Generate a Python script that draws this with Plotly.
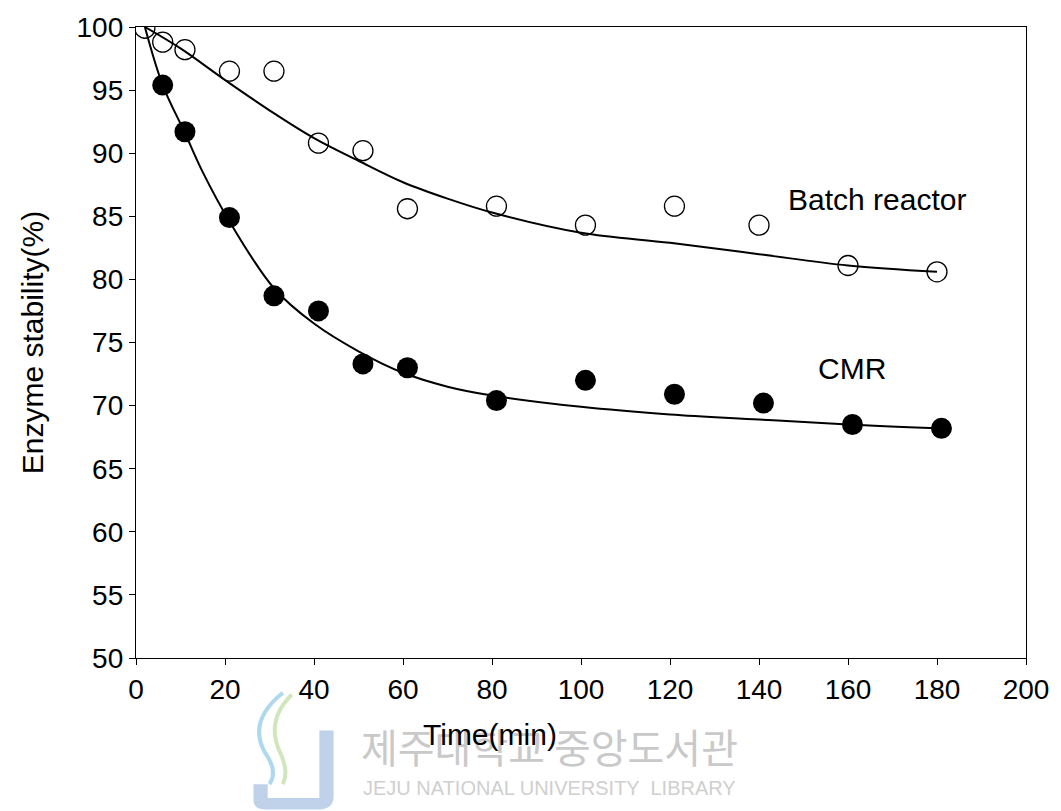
import plotly.graph_objects as go

# ---- data ----
batch_time = [2, 6, 11, 21, 31, 41, 51, 61, 81, 101, 121, 140, 160, 180]
batch_stab = [99.9, 98.8, 98.2, 96.5, 96.5, 90.8, 90.2, 85.6, 85.8, 84.3, 85.8, 84.3, 81.1, 80.6]

cmr_time = [6, 11, 21, 31, 41, 51, 61, 81, 101, 121, 141, 161, 181]
cmr_stab = [95.4, 91.7, 84.9, 78.7, 77.5, 73.3, 73.0, 70.4, 72.0, 70.9, 70.2, 68.5, 68.2]

# fitted curves
batch_fit_time = [2, 10, 20, 30, 40, 50, 60, 70, 80, 100, 120, 140, 160, 180]
batch_fit_stab = [100, 98.3, 95.8, 93.4, 91.2, 89.4, 87.7, 86.4, 85.3, 83.7, 82.9, 82.0, 81.1, 80.6]

cmr_fit_time = [2, 6, 11, 15, 21, 31, 40, 50, 60, 70, 80, 100, 120, 140, 160, 180]
cmr_fit_stab = [100, 95.4, 91.6, 88.5, 84.6, 79.3, 76.5, 74.3, 72.6, 71.5, 70.8, 69.9, 69.3, 68.9, 68.5, 68.2]

x_ticks = [0, 20, 40, 60, 80, 100, 120, 140, 160, 180, 200]
y_ticks = [50, 55, 60, 65, 70, 75, 80, 85, 90, 95, 100]

FONT = "Liberation Sans, Arial, Helvetica, sans-serif"

fig = go.Figure()

fig.add_trace(go.Scatter(x=batch_fit_time, y=batch_fit_stab, mode="lines",
                         line=dict(color="black", width=2, shape="spline", smoothing=1.0),
                         showlegend=False, hoverinfo="skip"))
fig.add_trace(go.Scatter(x=cmr_fit_time, y=cmr_fit_stab, mode="lines",
                         line=dict(color="black", width=2, shape="spline", smoothing=1.0),
                         showlegend=False, hoverinfo="skip"))
fig.add_trace(go.Scatter(x=batch_time, y=batch_stab, mode="markers", name="Batch reactor",
                         marker=dict(symbol="circle-open", size=20, color="black",
                                     line=dict(width=1.3, color="black")),
                         showlegend=False))
fig.add_trace(go.Scatter(x=cmr_time, y=cmr_stab, mode="markers", name="CMR",
                         marker=dict(symbol="circle", size=21, color="black"),
                         showlegend=False))

axis_common = dict(showline=True, linecolor="black", linewidth=1.3, mirror=True,
                   ticks="outside", ticklen=6, tickwidth=1.2, tickcolor="black",
                   showgrid=False, zeroline=False,
                   tickfont=dict(family=FONT, size=28, color="black"))

fig.update_xaxes(range=[0, 200], tickvals=x_ticks, ticktext=[str(v) for v in x_ticks],
                 **axis_common)
fig.update_yaxes(range=[50, 100], tickvals=y_ticks, ticktext=[str(v) for v in y_ticks],
                 **axis_common)

annotations = [
    dict(text="Batch reactor", x=166.5, y=86.3, xref="x", yref="y", showarrow=False,
         font=dict(family=FONT, size=30, color="black"), xanchor="center", yanchor="middle"),
    dict(text="CMR", x=161, y=72.95, xref="x", yref="y", showarrow=False,
         font=dict(family=FONT, size=30, color="black"), xanchor="center", yanchor="middle"),
    dict(text="Enzyme stability(%)", x=-0.116, y=0.5, xref="paper", yref="paper",
         showarrow=False, textangle=-90, font=dict(family=FONT, size=30, color="black"),
         xanchor="center", yanchor="middle"),
    # watermark of the scanned source
    dict(text="제주대학교 중앙도서관", x=0.465, y=-0.139, xref="paper", yref="paper",
         showarrow=False, font=dict(family="Noto Sans CJK KR", size=40, color="#c9c9c9"),
         xanchor="center", yanchor="middle"),
    dict(text="JEJU NATIONAL UNIVERSITY  LIBRARY", x=0.465, y=-0.206, xref="paper", yref="paper",
         showarrow=False, font=dict(family=FONT, size=20, color="#cfcfcf"),
         xanchor="center", yanchor="middle"),
    dict(text="Time(min)", x=0.398, y=-0.121, xref="paper", yref="paper",
         showarrow=False, font=dict(family=FONT, size=30, color="black"),
         xanchor="center", yanchor="middle"),
]

# simple stand-in for the library logo in the watermark
shapes = [
    dict(type="path", xref="paper", yref="paper", layer="above",
         path="M 0.206 -0.115 L 0.222 -0.115 L 0.222 -0.22 Q 0.222 -0.24 0.205 -0.24 "
              "L 0.145 -0.24 Q 0.132 -0.24 0.132 -0.225 L 0.132 -0.2 L 0.148 -0.2 "
              "L 0.148 -0.222 L 0.206 -0.222 Z",
         fillcolor="rgba(150,180,220,0.6)", line=dict(width=0)),
    dict(type="path", xref="paper", yref="paper", layer="above",
         path="M 0.165 -0.055 Q 0.125 -0.1 0.145 -0.15 Q 0.16 -0.18 0.15 -0.2",
         line=dict(color="rgba(140,200,230,0.7)", width=4)),
    dict(type="path", xref="paper", yref="paper", layer="above",
         path="M 0.175 -0.058 Q 0.145 -0.1 0.162 -0.15 Q 0.172 -0.18 0.165 -0.2",
         line=dict(color="rgba(190,220,160,0.7)", width=4)),
]

fig.update_layout(
    width=1061, height=811,
    margin=dict(l=136, r=35, t=22, b=153),
    plot_bgcolor="white", paper_bgcolor="white",
    annotations=annotations, shapes=shapes,
    font=dict(family=FONT, color="black"),
)

fig.write_html("out.html")
